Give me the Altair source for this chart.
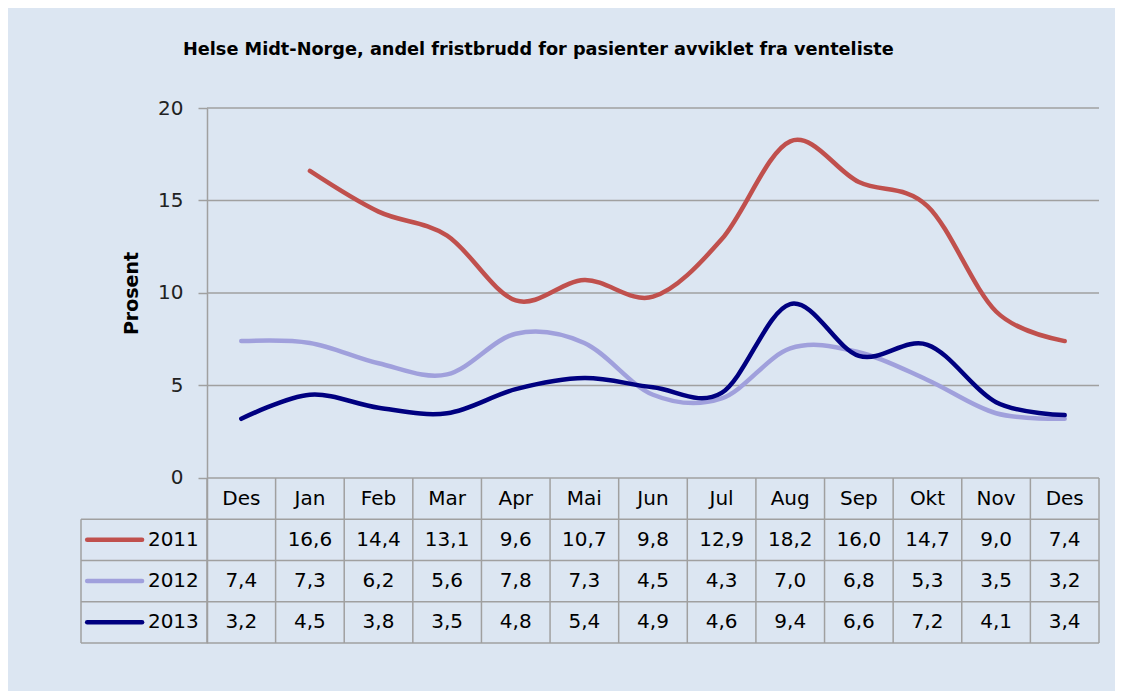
import altair as alt
import pandas as pd

months = ["Des", "Jan", "Feb", "Mar", "Apr", "Mai", "Jun", "Jul", "Aug", "Sep", "Okt", "Nov", "Des"]
years = ["2011", "2012", "2013"]
v2011 = [None, 16.6, 14.4, 13.1, 9.6, 10.7, 9.8, 12.9, 18.2, 16.0, 14.7, 9.0, 7.4]
v2012 = [7.4, 7.3, 6.2, 5.6, 7.8, 7.3, 4.5, 4.3, 7.0, 6.8, 5.3, 3.5, 3.2]
v2013 = [3.2, 4.5, 3.8, 3.5, 4.8, 5.4, 4.9, 4.6, 9.4, 6.6, 7.2, 4.1, 3.4]
y_ticks = [0, 5, 10, 15, 20]
colors = ["#c0504d", "#a0a0dc", "#000080"]

title = "Helse Midt-Norge, andel fristbrudd for pasienter avviklet fra venteliste"
FONT = "DejaVu Sans"
GRID = "#a0a0a0"

# table geometry (in data units of the shared scales)
N = len(months)
LBL = 1.836          # width of the label column, in category units
ROW = 2.23           # table row height, in value units
BOTTOM = -4 * ROW

xs = alt.Scale(domain=[-LBL, N], nice=False, zero=False)
ys = alt.Scale(domain=[BOTTOM, 20], nice=False, zero=False)

series = {"2011": v2011, "2012": v2012, "2013": v2013}

# line data
rows = []
for yr in years:
    for i, v in enumerate(series[yr]):
        if v is not None:
            rows.append({"x": i + 0.5, "v": v, "year": yr, "order": i})
lines_df = pd.DataFrame(rows)

# table cells
cells = []
for i, m in enumerate(months):
    cells.append({"x": i + 0.5, "y": -ROW / 2, "t": m})
for r, yr in enumerate(years):
    for i, v in enumerate(series[yr]):
        if v is not None:
            cells.append({"x": i + 0.5, "y": -ROW * (r + 1.5), "t": f"{v:.1f}".replace(".", ",")})
cells_df = pd.DataFrame(cells)

# legend entries inside the table
leg_df = pd.DataFrame([
    {"year": yr, "x1": -LBL + 0.09, "x2": -LBL + 0.89, "xt": -LBL + 0.975, "y": -ROW * (r + 1.5)}
    for r, yr in enumerate(years)
])

# grid rules
grid_df = pd.DataFrame({"y": y_ticks, "x1": 0, "x2": N})

# table rules
h_df = pd.DataFrame({"y": [-ROW * k for k in range(1, 5)], "x1": -LBL, "x2": N})
v_rows = [{"x": k, "y1": 0, "y2": BOTTOM} for k in range(0, N + 1)]
v_rows.append({"x": -LBL, "y1": -ROW, "y2": BOTTOM})
v_df = pd.DataFrame(v_rows)

color_scale = alt.Scale(domain=years, range=colors)

grid = alt.Chart(grid_df).mark_rule(color=GRID, strokeWidth=1.5).encode(
    x=alt.X("x1:Q", scale=xs, axis=None),
    x2="x2:Q",
    y=alt.Y("y:Q", scale=ys, axis=alt.Axis(
        values=y_ticks, offset=-126, tickSize=9, grid=False,
        domainColor=GRID, domainWidth=1.5, tickColor=GRID, tickWidth=1.5,
        labelFont=FONT, labelFontSize=20, labelColor="#222222", labelPadding=15,
        title="Prosent", titleFont=FONT, titleFontSize=19, titleFontWeight="bold",
        titleColor="black", titleAngle=270, titleX=-76, titleY=185,
        titleAlign="center", titleBaseline="middle")),
)

hrules = alt.Chart(h_df).mark_rule(color=GRID, strokeWidth=1.5).encode(
    x=alt.X("x1:Q", scale=xs, axis=None), x2="x2:Q",
    y=alt.Y("y:Q", scale=ys, axis=None),
)
vrules = alt.Chart(v_df).mark_rule(color=GRID, strokeWidth=1.5).encode(
    x=alt.X("x:Q", scale=xs, axis=None),
    y=alt.Y("y1:Q", scale=ys, axis=None), y2="y2:Q",
)

lines = alt.Chart(lines_df).mark_line(interpolate="cardinal", strokeWidth=4.5, strokeCap="round").encode(
    x=alt.X("x:Q", scale=xs, axis=None),
    y=alt.Y("v:Q", scale=ys, axis=None),
    color=alt.Color("year:N", scale=color_scale, legend=None),
    order="order:Q",
)

texts = alt.Chart(cells_df).mark_text(font=FONT, fontSize=20, color="black", baseline="middle").encode(
    x=alt.X("x:Q", scale=xs, axis=None),
    y=alt.Y("y:Q", scale=ys, axis=None),
    text="t:N",
)

leg_lines = alt.Chart(leg_df).mark_rule(strokeWidth=4.5, strokeCap="round").encode(
    x=alt.X("x1:Q", scale=xs, axis=None), x2="x2:Q",
    y=alt.Y("y:Q", scale=ys, axis=None),
    color=alt.Color("year:N", scale=color_scale, legend=None),
)
leg_text = alt.Chart(leg_df).mark_text(font=FONT, fontSize=20, color="black", align="left", baseline="middle").encode(
    x=alt.X("xt:Q", scale=xs, axis=None),
    y=alt.Y("y:Q", scale=ys, axis=None),
    text="year:N",
)

chart = alt.layer(grid, hrules, vrules, lines, texts, leg_lines, leg_text).resolve_axis(
    y="independent", x="independent"
).properties(
    width=1018,
    height=535,
    background="#dce6f2",
    padding={"left": 73, "top": 100, "right": 16, "bottom": 48},
    autosize=alt.AutoSizeParams(type="none"),
    title=alt.TitleParams(title, anchor="start", frame="group", dx=102, offset=39,
                          font=FONT, fontSize=17.7, fontWeight="bold", color="black"),
).configure_view(strokeWidth=0)

chart.save("out.html", embed_options={"renderer": "svg", "actions": False})
